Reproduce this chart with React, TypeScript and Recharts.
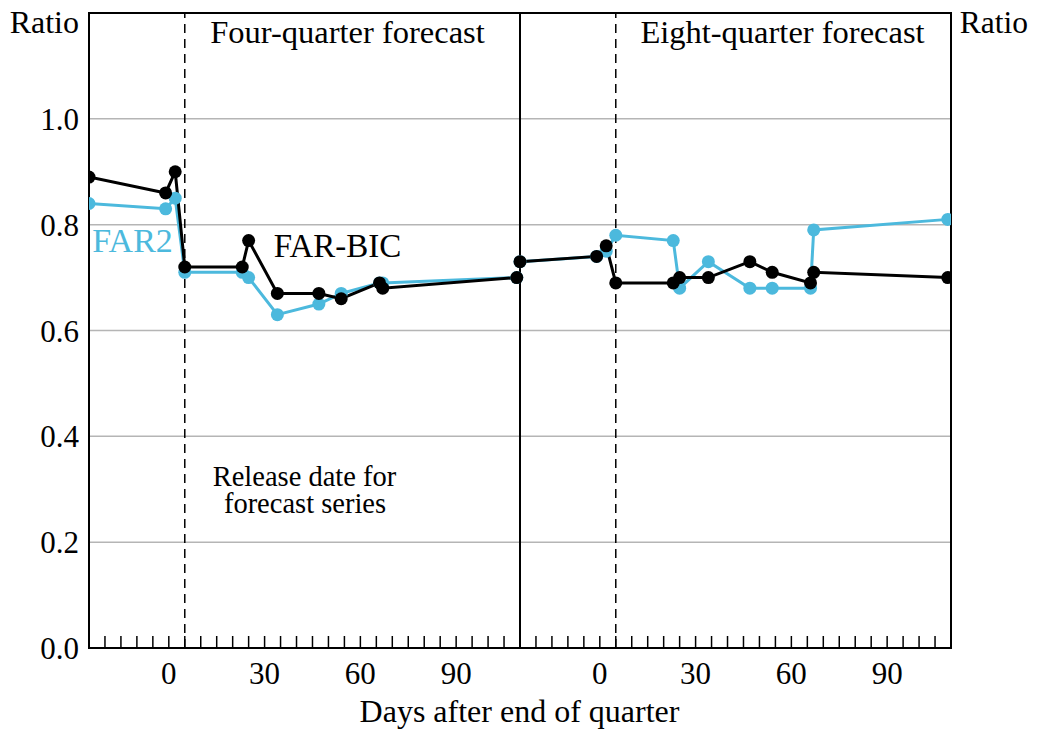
import React from 'react';
import { LineChart, Line, XAxis, YAxis, CartesianGrid, ReferenceLine, ReferenceArea } from 'recharts';

// Days after end of quarter at which forecasts were evaluated (same for both panels)
const days = [-25, -1, 2, 5, 23, 25, 34, 47, 54, 66, 67, 109];
// Four-quarter forecast panel
const fourQuarterBIC = [0.89, 0.86, 0.9, 0.72, 0.72, 0.77, 0.67, 0.67, 0.66, 0.69, 0.68, 0.7];
const fourQuarterFAR2 = [0.84, 0.83, 0.85, 0.71, 0.71, 0.7, 0.63, 0.65, 0.67, 0.69, 0.69, 0.7];
// Eight-quarter forecast panel
const eightQuarterBIC = [0.73, 0.74, 0.76, 0.69, 0.69, 0.7, 0.7, 0.73, 0.71, 0.69, 0.71, 0.7];
const eightQuarterFAR2 = [0.73, 0.74, 0.75, 0.78, 0.77, 0.68, 0.73, 0.68, 0.68, 0.68, 0.79, 0.81];

const xTickLabels = [0, 30, 60, 90];
const yTicks = [0, 0.2, 0.4, 0.6, 0.8, 1.0];
const releaseDay = 5;
const panelStart = -25;
const panelEnd = 110;
const panelOffset = panelEnd - panelStart; // right panel drawn after the left one
const yMax = 1.2;

const BLUE = '#4cb9dd';
const FONT = '"Liberation Serif", "Times New Roman", serif';

const toPoints = (xs: number[], ys: number[], offset: number) =>
  xs.map((d, i) => ({ x: d + offset, y: ys[i] }));

const leftBIC = toPoints(days, fourQuarterBIC, 0);
const leftFAR2 = toPoints(days, fourQuarterFAR2, 0);
const rightBIC = toPoints(days, eightQuarterBIC, panelOffset);
const rightFAR2 = toPoints(days, eightQuarterFAR2, panelOffset);

const xTicks: number[] = [];
for (let v = panelStart; v <= panelEnd + panelOffset; v += 5) xTicks.push(v);

const XTick = (props: any) => {
  const { x, y, payload } = props;
  const v = payload.value as number;
  const local = v > panelEnd ? v - panelOffset : v;
  const showLabel = v !== panelEnd && xTickLabels.includes(local);
  return (
    <g>
      <line x1={x} x2={x} y1={y} y2={y - 12} stroke="#000" strokeWidth={1.5} />
      {showLabel && (
        <text x={x} y={y + 36} textAnchor="middle" fontSize={31} fontFamily={FONT} fill="#000">
          {local}
        </text>
      )}
    </g>
  );
};

const W = 1021;
const H = 717;

export default function App() {
  const dotBlue = { r: 6.5, fill: BLUE, stroke: BLUE, strokeWidth: 0 };
  const dotBlack = { r: 6.5, fill: '#000', stroke: '#000', strokeWidth: 0 };
  return (
    <div style={{ position: 'relative', width: W, height: H + 8, fontFamily: FONT }}>
      <LineChart width={W} height={H} margin={{ top: 5, right: 0, bottom: 0, left: 0 }}>
        <CartesianGrid yAxisId="left" vertical={false} stroke="#b5b5b5" strokeWidth={1.5} />
        <XAxis
          dataKey="x"
          type="number"
          domain={[panelStart, panelEnd + panelOffset]}
          ticks={xTicks}
          interval={0}
          height={77}
          tickSize={0}
          tickMargin={0}
          tickLine={false}
          axisLine={false}
          tick={XTick}
          allowDataOverflow
        />
        <YAxis
          yAxisId="left"
          orientation="left"
          width={81}
          domain={[0, yMax]}
          ticks={yTicks}
          tickFormatter={(v: number) => v.toFixed(1)}
          tickLine={false}
          axisLine={false}
          tickMargin={4}
          tick={{ fontSize: 31, fill: '#000', fontFamily: FONT }}
        />
        <YAxis
          yAxisId="right"
          orientation="right"
          width={78}
          domain={[0, yMax]}
          ticks={yTicks}
          tickFormatter={(v: number) => v.toFixed(1)}
          tickLine={false}
          axisLine={false}
          tickMargin={4}
          tick={{ fontSize: 31, fill: '#000', fontFamily: FONT }}
        />
        <ReferenceLine yAxisId="left" x={releaseDay} stroke="#000" strokeWidth={1.5} strokeDasharray="9 6" />
        <ReferenceLine yAxisId="left" x={releaseDay + panelOffset} stroke="#000" strokeWidth={1.5} strokeDasharray="9 6" />
        <ReferenceLine yAxisId="left" x={panelEnd} stroke="#000" strokeWidth={2} />
        <ReferenceArea
          yAxisId="left"
          x1={panelStart}
          x2={panelEnd + panelOffset}
          y1={0}
          y2={yMax}
          fill="none"
          fillOpacity={0}
          stroke="#000"
          strokeWidth={2}
        />
        <Line yAxisId="left" data={leftFAR2} dataKey="y" stroke={BLUE} strokeWidth={3} dot={dotBlue} isAnimationActive={false} />
        <Line yAxisId="left" data={rightFAR2} dataKey="y" stroke={BLUE} strokeWidth={3} dot={dotBlue} isAnimationActive={false} />
        <Line yAxisId="left" data={leftBIC} dataKey="y" stroke="#000" strokeWidth={3} dot={dotBlack} isAnimationActive={false} />
        <Line yAxisId="left" data={rightBIC} dataKey="y" stroke="#000" strokeWidth={3} dot={dotBlack} isAnimationActive={false} />
      </LineChart>
      <svg
        width={W}
        height={H + 8}
        style={{ position: 'absolute', left: 0, top: 0, pointerEvents: 'none', overflow: 'visible' }}
      >
        <g fontFamily={FONT} fill="#000">
          <text x={71} y={25} fontSize={32} textAnchor="end">Ratio</text>
          <text x={1020} y={25} fontSize={31.5} textAnchor="end">Ratio</text>
          <text x={339.5} y={35} fontSize={32.5} textAnchor="middle">Four-quarter forecast</text>
          <text x={774.5} y={35} fontSize={32.5} textAnchor="middle">Eight-quarter forecast</text>
          <text x={124.5} y={244} fontSize={34} textAnchor="middle" fill={BLUE}>FAR2</text>
          <text x={329.5} y={249} fontSize={33} textAnchor="middle">FAR-BIC</text>
          <text x={296.5} y={478} fontSize={28.5} textAnchor="middle">
            <tspan x={296.5} y={478}>Release date for</tspan>
            <tspan x={297} y={505}>forecast series</tspan>
          </text>
          <text x={511.5} y={714} fontSize={32} textAnchor="middle">Days after end of quarter</text>
        </g>
      </svg>
    </div>
  );
}
